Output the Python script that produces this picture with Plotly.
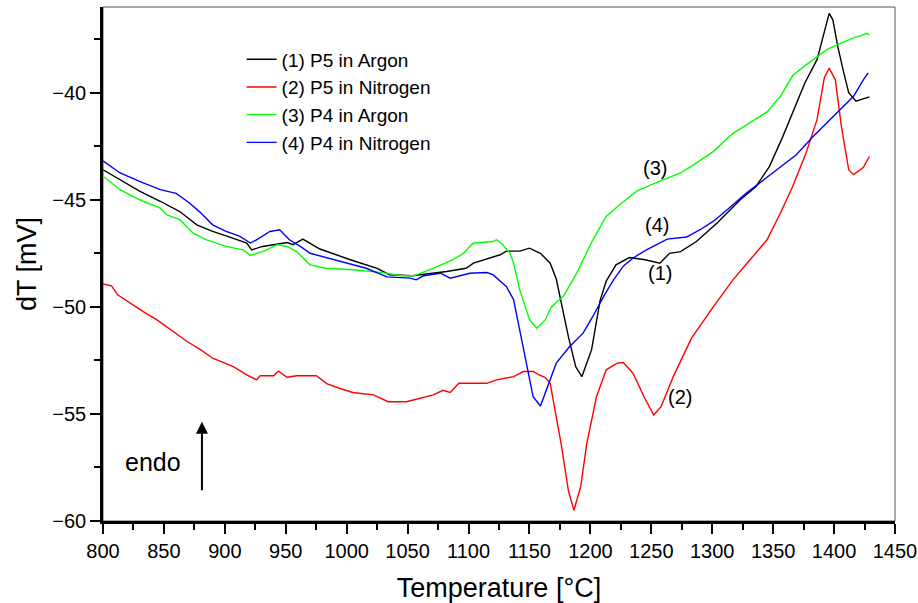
import plotly.graph_objects as go

# (1) P5 in Argon
x1 = [800, 814, 830, 847, 863, 877, 890, 907, 918, 922, 931, 940, 951, 956, 964, 978, 1003, 1025, 1035, 1054,
      1082, 1098, 1104, 1126, 1131, 1142, 1150, 1159, 1167, 1172, 1175, 1182, 1188, 1193, 1201, 1208, 1213, 1221,
      1232, 1245, 1257, 1265, 1274, 1287, 1304, 1323, 1336, 1347, 1358, 1369, 1376, 1386, 1391, 1396, 1399, 1403,
      1408, 1412, 1418, 1424, 1429]
y1 = [-43.6, -44.07, -44.6, -45.07, -45.55, -46.17, -46.48, -46.8, -47.02, -47.34, -47.18, -47.1, -47.0, -47.1,
      -46.84, -47.3, -47.8, -48.2, -48.5, -48.55, -48.35, -48.2, -47.96, -47.57, -47.4, -47.4, -47.26, -47.5,
      -47.96, -48.7, -49.5, -51.4, -52.8, -53.26, -52.0, -49.7, -48.8, -48.04, -47.7, -47.8, -47.96, -47.5,
      -47.42, -46.95, -46.09, -45.0, -44.38, -43.44, -42.04, -40.48, -39.55, -38.46, -37.37, -36.3, -36.6,
      -37.84, -39.08, -40.0, -40.4, -40.3, -40.2]

# (2) P5 in Nitrogen
x2 = [800, 807, 812, 822, 833, 844, 858, 869, 880, 890, 907, 918, 926, 929, 940, 944, 951, 959, 975, 984, 994,
      1005, 1022, 1034, 1049, 1060, 1071, 1079, 1085, 1092, 1115, 1123, 1137, 1145, 1153, 1158, 1163, 1167, 1172,
      1176, 1182, 1186.5, 1192, 1197, 1205, 1213, 1222, 1227, 1235, 1244, 1252, 1258, 1268, 1283, 1301, 1317,
      1331, 1345, 1356, 1366, 1377, 1386, 1392, 1396, 1401, 1406, 1412, 1416, 1424, 1429]
y2 = [-48.93, -49.02, -49.44, -49.83, -50.22, -50.6, -51.15, -51.62, -52.0, -52.4, -52.79, -53.18, -53.41,
      -53.22, -53.22, -53.0, -53.29, -53.22, -53.22, -53.6, -53.8, -54.0, -54.11, -54.43, -54.43, -54.27, -54.11,
      -53.9, -54.0, -53.57, -53.57, -53.41, -53.26, -53.02, -53.02, -53.18, -53.3, -53.57, -55.1, -56.4, -58.6,
      -59.5, -58.4, -56.4, -54.2, -52.94, -52.63, -52.6, -53.1, -54.2, -55.05, -54.66, -53.26, -51.46, -49.99,
      -48.74, -47.8, -46.87, -45.62, -44.38, -42.82, -41.26, -39.3, -38.85, -39.4, -41.57, -43.6, -43.83, -43.5,
      -42.98]

# (3) P4 in Argon
x3 = [800, 814, 830, 847, 852, 863, 874, 885, 901, 915, 921, 931, 943, 951, 959, 964, 970, 983, 1005, 1030,
      1044, 1055, 1071, 1087, 1096, 1101, 1104, 1120, 1123, 1128, 1134, 1137, 1142, 1150, 1156, 1163, 1168, 1178,
      1189, 1202, 1213, 1224, 1238, 1254, 1274, 1285, 1301, 1317, 1334, 1345, 1356, 1366, 1377, 1394, 1405, 1416,
      1427, 1429]
y3 = [-43.9, -44.53, -45.0, -45.39, -45.7, -45.93, -46.56, -46.87, -47.18, -47.34, -47.6, -47.42, -47.1, -47.18,
      -47.42, -47.72, -48.04, -48.2, -48.27, -48.4, -48.55, -48.55, -48.2, -47.8, -47.5, -47.18, -47.02, -46.95,
      -46.87, -47.1, -47.5, -47.96, -49.2, -50.6, -51.0, -50.6, -49.99, -49.5, -48.4, -46.87, -45.78, -45.23,
      -44.6, -44.2, -43.75, -43.36, -42.74, -41.9, -41.3, -40.9, -40.17, -39.2, -38.7, -37.99, -37.7, -37.44,
      -37.24, -37.3]

# (4) P4 in Nitrogen
x4 = [800, 814, 830, 847, 860, 871, 880, 890, 901, 912, 921, 926, 937, 945, 953, 962, 970, 989, 1008, 1016,
      1033, 1052, 1057, 1063, 1077, 1085, 1101, 1115, 1120, 1126, 1131, 1137, 1145, 1153, 1159, 1164, 1172, 1183,
      1194, 1202, 1211, 1219, 1227, 1235, 1246, 1263, 1279, 1290, 1301, 1313, 1328, 1353, 1369, 1383, 1402, 1416,
      1424, 1428]
y4 = [-43.18, -43.75, -44.14, -44.53, -44.7, -45.15, -45.6, -46.17, -46.48, -46.7, -47.02, -46.87, -46.48, -46.4,
      -46.87, -47.18, -47.5, -47.8, -48.1, -48.2, -48.6, -48.66, -48.74, -48.55, -48.43, -48.66, -48.43, -48.4,
      -48.5, -48.8, -49.05, -49.67, -52.0, -54.2, -54.63, -53.88, -52.63, -51.85, -51.23, -50.45, -49.5, -48.74,
      -48.1, -47.72, -47.34, -46.84, -46.74, -46.4, -46.0, -45.43, -44.69, -43.6, -42.9, -42.04, -40.95, -40.17,
      -39.4, -39.08]

names = ["(1) P5 in Argon", "(2) P5 in Nitrogen", "(3) P4 in Argon", "(4) P4 in Nitrogen"]
colors = ["#000000", "#FF0000", "#00FF00", "#0000FF"]

labels = ["(1)", "(2)", "(3)", "(4)"]
label_x = [1257, 1273.5, 1253, 1254.5]
label_y = [-48.43, -54.2, -43.5, -46.17]

FONT = "Liberation Sans, Arial, sans-serif"

fig = go.Figure()
for xs, ys, nm, c in zip([x1, x2, x3, x4], [y1, y2, y3, y4], names, colors):
    fig.add_trace(go.Scatter(x=xs, y=ys, mode="lines", name=nm,
                             line=dict(color=c, width=1.4)))

for t, lx, ly in zip(labels, label_x, label_y):
    fig.add_annotation(x=lx, y=ly, text=t, showarrow=False,
                       font=dict(family=FONT, size=20, color="black"))

fig.add_annotation(x=841, y=-57.24, text="endo", showarrow=False,
                   font=dict(family=FONT, size=25, color="black"))
fig.add_annotation(x=881.2, y=-55.37, ax=881.2, ay=-58.64, axref="x", ayref="y",
                   text="", showarrow=True, arrowhead=2, arrowsize=1.2, arrowwidth=2,
                   arrowcolor="black")

fig.add_shape(type="rect", xref="paper", yref="paper", x0=0, x1=1, y0=0, y1=1,
              line=dict(color="#555555", width=1), layer="below")

axis_common = dict(showgrid=False, zeroline=False, showline=True, linecolor="black", linewidth=2.5,
                   ticks="outside", ticklen=10, tickwidth=2, tickcolor="black", automargin=False,
                   tickfont=dict(family=FONT, size=20, color="black"))

fig.update_xaxes(range=[800, 1450], tick0=800, dtick=50,
                 minor=dict(dtick=25, ticks="outside", ticklen=6, tickwidth=2, tickcolor="black"),
                 title=dict(text="Temperature [°C]", font=dict(family=FONT, size=27, color="black"),
                            standoff=22),
                 **axis_common)
fig.update_yaxes(range=[-60, -36], tick0=-60, dtick=5,
                 minor=dict(dtick=2.5, ticks="outside", ticklen=6, tickwidth=2, tickcolor="black"),
                 title=dict(text="dT [mV]", font=dict(family=FONT, size=27, color="black"),
                            standoff=8),
                 **axis_common)

fig.update_layout(
    width=918, height=603,
    margin=dict(l=103, r=23, t=7, b=82),
    plot_bgcolor="white", paper_bgcolor="white",
    font=dict(family=FONT, color="black"),
    legend=dict(x=0.175, y=0.935, xanchor="left", yanchor="top",
                bgcolor="rgba(0,0,0,0)", borderwidth=0,
                font=dict(family=FONT, size=19, color="black")),
)

fig.write_html("out.html")
